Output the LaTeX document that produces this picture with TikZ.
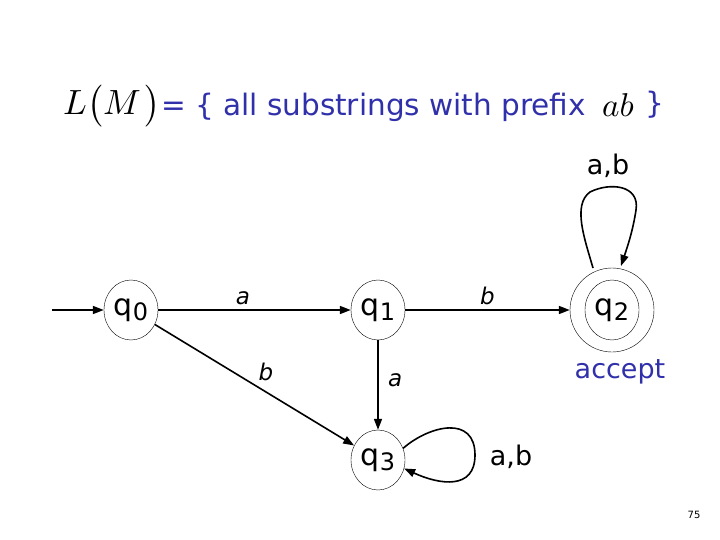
\documentclass[tikz,border=0pt]{standalone}
\usepackage{fontspec}
\usepackage{graphicx}
\setmainfont{DejaVu Sans}
\usetikzlibrary{arrows.meta,shapes.geometric}
\definecolor{tblue}{RGB}{48,48,170}
\newcommand{\qs}[1]{q\raisebox{-5pt}{\fontsize{24}{26}\selectfont #1}}
\tikzset{
  st/.style={draw, line width=0.4pt, ellipse, minimum width=54pt, minimum height=60pt, inner sep=0pt, font=\fontsize{30}{32}\selectfont},
  edge/.style={line width=1.6pt, -{Triangle[length=11pt,width=8pt]}},
  lbl/.style={font=\fontsize{23}{25}\selectfont\itshape},
  big/.style={font=\fontsize{27}{29}\selectfont},
}
\begin{document}
\begin{tikzpicture}[x=1pt,y=-1pt]
\useasboundingbox (0,0) rectangle (720,540);
\node[st] (q0) at (131,310) {\qs{0}};
\node[st] (q1) at (378,310) {\qs{1}};
\node[st] (q2) at (612,310) {\qs{2}};
\node[draw, line width=0.4pt, circle, minimum size=84pt, inner sep=0pt] (q2o) at (612,310) {};
\node[st] (q3) at (378,460) {\qs{3}};
\coordinate (start) at (52,310);
\draw[edge] (start) -- (q0);
\draw[edge] (q0) -- node[lbl, above=1pt, pos=0.44] {a} (q1);
\draw[edge] (q1) -- node[lbl, above=1pt, pos=0.5] {b} (q2o);
\draw[edge] (q0) -- node[lbl, pos=0.5, above right=0pt] {b} (q3);
\draw[edge] (q1) -- node[lbl, right=6pt, pos=0.45] {a} (q3);
\draw[edge] (q3.25) .. controls (430,425) and (475,415) .. (475,455) .. controls (475,490) and (440,485) .. (q3.-18);
\draw[edge] (593,268) .. controls (585,240) and (572,205) .. (590,192) .. controls (610,182) and (640,185) .. (636,210) .. controls (633,230) and (628,245) .. (621,266);
\node[big] (ab1) at (608,166) {a,b};
\node[big] (ab2) at (511,457) {a,b};
\node[big, text=tblue] (acc) at (620,372) {accept};
\node[anchor=west, inner sep=0pt] (lm) at (63,106) {\scalebox{3.5}{$L\bigl(M\mkern2mu\bigr)$}};
\node[anchor=west, font=\fontsize{29.5}{31}\selectfont, text=tblue, inner sep=0pt] (title) at ([yshift=-1pt]lm.east) {= \{ all substrings with prefix};
\node[inner sep=0pt] (ab) at (618,105) {\scalebox{3.3}{$ab$}};
\node[font=\fontsize{29.5}{31}\selectfont, text=tblue, inner sep=0pt] (cb) at (655,105) {\}};
\node[font=\fontsize{10}{12}\selectfont] (pg) at (694,515) {75};
\end{tikzpicture}
\end{document}
